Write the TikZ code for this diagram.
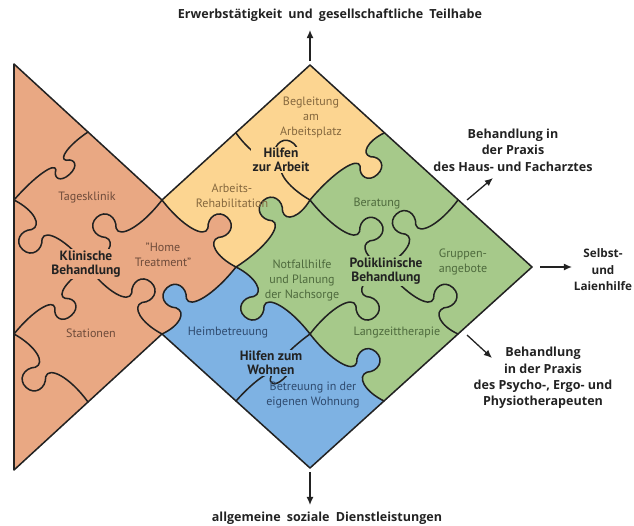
\documentclass[tikz,border=0pt]{standalone}
\usepackage{fontspec}
\setmainfont{PT Sans}
\newfontfamily\outerfont{Open Sans}
\usetikzlibrary{arrows.meta,calc}

\definecolor{orf}{HTML}{E9A883}
\definecolor{yef}{HTML}{FCD591}
\definecolor{grf}{HTML}{A6C98A}
\definecolor{blf}{HTML}{7EB2E3}
\definecolor{ort}{HTML}{6E4B3A}
\definecolor{yet}{HTML}{85683E}
\definecolor{grt}{HTML}{4E6A3D}
\definecolor{blt}{HTML}{2E4A6E}
\definecolor{ink}{HTML}{222222}

% point at (t,s) relative to the edge \p1 -> \p2 ; #1 side (and depth factor), #2 knob centre, #3 dt, #4 s
\newcommand\jp[4]{({\x1+((#2)+(#3))*(\x2-\x1)-(#4)*(#1)*(\y2-\y1)},{\y1+((#2)+(#3))*(\y2-\y1)+(#4)*(#1)*(\x2-\x1)})}
\newcommand\ws{\hspace{2.5pt}}

\tikzset{
  jig/.style 2 args={to path={let \p1=(\tikztostart), \p2=(\tikztotarget) in
    .. controls \jp{#1}{0.55*(#2)}{0}{-0.06} and \jp{#1}{#2}{-0.02}{0.0} .. \jp{#1}{#2}{-0.07}{0.10}
    .. controls \jp{#1}{#2}{-0.15}{0.18} and \jp{#1}{#2}{-0.12}{0.31} .. \jp{#1}{#2}{0}{0.31}
    .. controls \jp{#1}{#2}{0.12}{0.31} and \jp{#1}{#2}{0.15}{0.18} .. \jp{#1}{#2}{0.07}{0.10}
    .. controls \jp{#1}{#2}{0.02}{0.0} and \jp{#1}{(#2)+0.45*(1-(#2))}{0}{-0.06} .. (\tikztotarget)}},
  edge/.style={draw=ink, line width=1.3pt, line join=round, line cap=round},
  lab/.style={font=\fontsize{10.3}{12.8}\selectfont, align=center, inner sep=0pt},
  blab/.style={font=\bfseries\fontsize{11.5}{11.5}\selectfont, align=center, inner sep=1.5pt, text=ink},
  olab/.style={font=\outerfont\bfseries\fontsize{10.7}{14}\selectfont, align=center, inner sep=0pt, text=ink},
  arr/.style={-{Latex[length=7pt,width=6pt]}, line width=1.1pt, draw=ink},
}

\begin{document}
\begin{tikzpicture}[x=0.03cm,y=-0.03cm]
\useasboundingbox (0,0) rectangle (634,526);
% lattice points
\coordinate (A) at (14,64);
\coordinate (B) at (88,132);
\coordinate (C) at (162,200);
\coordinate (D) at (14,200);
\coordinate (E) at (88,267);
\coordinate (O) at (236,267);
\coordinate (F) at (14,334);
\coordinate (G) at (162,334);
\coordinate (H) at (88,402);
\coordinate (I) at (14,470);
\coordinate (YT) at (310,65);
\coordinate (YM) at (236,133);
\coordinate (J) at (310,200);
\coordinate (K) at (384,133);
\coordinate (Q) at (458,200);
\coordinate (R) at (532,267);
\coordinate (M) at (384,267);
\coordinate (S) at (458,334);
\coordinate (N) at (310,334);
\coordinate (P) at (384,401);
\coordinate (BT) at (310,468);
\coordinate (BM) at (236,401);

% fills
\fill[orf] (A) -- (C) to[jig={1}{0.6}] (O) to[jig={-1}{0.65}] (G) -- (I) -- cycle;
\fill[yef] (C) -- (YT) -- (K) to[jig={0.85}{0.33}] (J) to[jig={-1}{0.35}] (O) to[jig={-1}{0.4}] (C) -- cycle;
\fill[grf] (K) -- (R) -- (P) to[jig={-1}{0.39}] (N) to[jig={1}{0.6}] (O) to[jig={1}{0.65}] (J) to[jig={-0.85}{0.67}] (K) -- cycle;
\fill[blf] (O) to[jig={-1}{0.4}] (N) to[jig={1}{0.61}] (P) -- (BT) -- (G) to[jig={1}{0.35}] (O) -- cycle;

% outline
\draw[edge] (A) -- (C) -- (YT) -- (R) -- (BT) -- (G) -- (I) -- cycle;
% region boundaries
\draw[edge] (C) to[jig={1}{0.6}] (O) to[jig={-1}{0.65}] (G);
\draw[edge] (K) to[jig={0.85}{0.33}] (J) to[jig={-1}{0.35}] (O) to[jig={-1}{0.4}] (N) to[jig={1}{0.61}] (P);
% piece dividers
\draw[edge] (B) to[jig={0.6}{0.42}] (D);
\draw[edge] (D) to[jig={-1}{0.4}] (E);
\draw[edge] (C) to[jig={-1}{0.6}] (E);
\draw[edge] (E) to[jig={1}{0.57}] (G);
\draw[edge] (E) to[jig={0.8}{0.45}] (F);
\draw[edge] (F) to[jig={-1}{0.45}] (H);
\draw[edge] (YM) to[jig={1}{0.5}] (J);
\draw[edge] (N) to[jig={0.5}{0.5}] (BM);
\draw[edge] (J) to[jig={1}{0.65}] (M);
\draw[edge] (Q) to[jig={-1}{0.55}] (M);
\draw[edge] (S) to[jig={-1}{0.35}] (M);
\draw[edge] (N) to[jig={-1}{0.6}] (M);

% piece labels
\node[lab, text=ort] (tk) at (87,198) {Tagesklinik};
\node[lab, text=ort] (ht) at (163,255) {"Home\\Treatment"};
\node[lab, text=ort] (st) at (91,333) {Stationen};
\node[blab, fill=orf] (kb) at (86,264) {Klinische\\Behandlung};

\node[lab, text=yet] (ba) at (311,117) {Begleitung\\am\\Arbeitsplatz};
\node[lab, text=yet] (ar) at (232,196) {Arbeits-\\Rehabilitation};
\node[blab, fill=yef] (hz) at (281,160) {Hilfen\\zur Arbeit};

\node[lab, text=grt] (be) at (377,204) {Beratung};
\node[lab, text=grt] (gr) at (463,262) {Gruppen-\\angebote};
\node[lab, text=grt] (nf) at (302,280) {Notfallhilfe\\und Planung\\der Nachsorge};
\node[lab, text=grt] (lz) at (397,333) {Langzeittherapie};
\node[blab, fill=grf] (pb) at (386,271) {Poliklinische\\Behandlung};

\node[lab, text=blt] (hb) at (228,333) {Heimbetreuung};
\node[lab, text=blt] (bw) at (313,395) {Betreuung in der\\eigenen Wohnung};
\node[blab, fill=blf] (hw) at (271,363) {Hilfen zum\\Wohnen};

% outer labels
\node[olab] (top) at (330,15) {Erwerbstätigkeit\ws{} und\ws{} gesellschaftliche\ws{} Teilhabe};
\node[olab] (bot) at (327,518) {allgemeine\ws{} soziale\ws{} Dienstleistungen};
\node[olab] (ur) at (513,150) {Behandlung in\\der Praxis\\des Haus- und Facharztes};
\node[olab, font=\outerfont\bfseries\fontsize{10}{14}\selectfont] (mr) at (603,270) {Selbst-\\und\\Laienhilfe};
\node[olab] (lr) at (543,378) {Behandlung\\in der Praxis\\des Psycho-, Ergo- und\\Physiotherapeuten};

% arrows
\coordinate (a1) at (310,61);  \coordinate (a1e) at (310,30);
\coordinate (a2) at (310,472); \coordinate (a2e) at (310,505);
\coordinate (a3) at (467,200); \coordinate (a3e) at (493,178);
\coordinate (a4) at (540,267); \coordinate (a4e) at (572,267);
\coordinate (a5) at (467,335); \coordinate (a5e) at (492,358);
\draw[arr] (a1) -- (a1e);
\draw[arr] (a2) -- (a2e);
\draw[arr] (a3) -- (a3e);
\draw[arr] (a4) -- (a4e);
\draw[arr] (a5) -- (a5e);
\end{tikzpicture}
\end{document}
